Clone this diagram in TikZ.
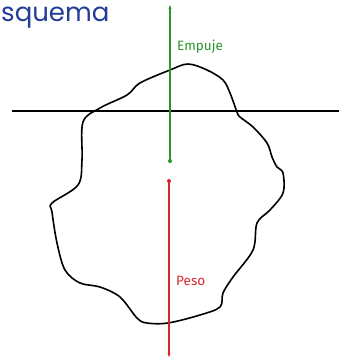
\documentclass[tikz,border=0pt]{standalone}
\usepackage{fontspec}
\setsansfont{Fira Sans}
\newfontfamily\handfont{Poppins}
\usetikzlibrary{arrows.meta}
\definecolor{fgreen}{RGB}{40,150,40}
\definecolor{fred}{RGB}{215,40,45}
\definecolor{inkblue}{RGB}{35,60,150}
\tikzset{
  outline/.style={line width=1.6pt, line join=round},
  force/.style={line width=1.3pt, -{Stealth[length=4pt,width=3pt]}},
  lbl/.style={font=\sffamily\fontsize{13.5}{15}\selectfont, inner sep=0pt, anchor=west},
}
\begin{document}
\begin{tikzpicture}[x=1pt,y=-1pt]
\useasboundingbox (0,0) rectangle (339,358);
\fill[white] (0,0) rectangle (339,358);
% title
\node[anchor=base west, inner sep=0pt, text=inkblue, font=\handfont\fontsize{26}{28}\selectfont] (title) at (1,22) {squema};
% waterline
\coordinate (wl) at (12,111);
\coordinate (wr) at (339,111);
\draw[line width=1.4pt] (wl) -- (wr);
% body outline
\draw[outline] plot[smooth cycle, tension=0.55] coordinates {
 (188,64) (170,70) (140,83) (127,95) (100,108) (83,122) (82,160) (78,185)
 (52,203) (52,212) (57,243) (65,270) (80,283) (100,287) (120,297) (137,318)
 (147,323) (168,323) (200,315) (220,307) (223,293) (233,277) (253,250)
 (257,223) (270,210) (283,193) (283,173) (277,167) (272,157) (267,143)
 (253,127) (240,117) (237,112) (230,93) (223,80) (207,70)};
% buoyancy
\coordinate (gb) at (170,161);
\coordinate (gt) at (170,5);
\fill[fgreen] (gb) circle (2pt);
\draw[force, fgreen] (gb) -- (gt);
\node[lbl, text=fgreen] (emp) at (177,47) {Empuje};
% weight
\coordinate (rt) at (169,181);
\coordinate (rb) at (169,357);
\fill[fred] (rt) circle (2pt);
\draw[force, fred] (rt) -- (rb);
\node[lbl, text=fred] (peso) at (176,281) {Peso};
\end{tikzpicture}
\end{document}
